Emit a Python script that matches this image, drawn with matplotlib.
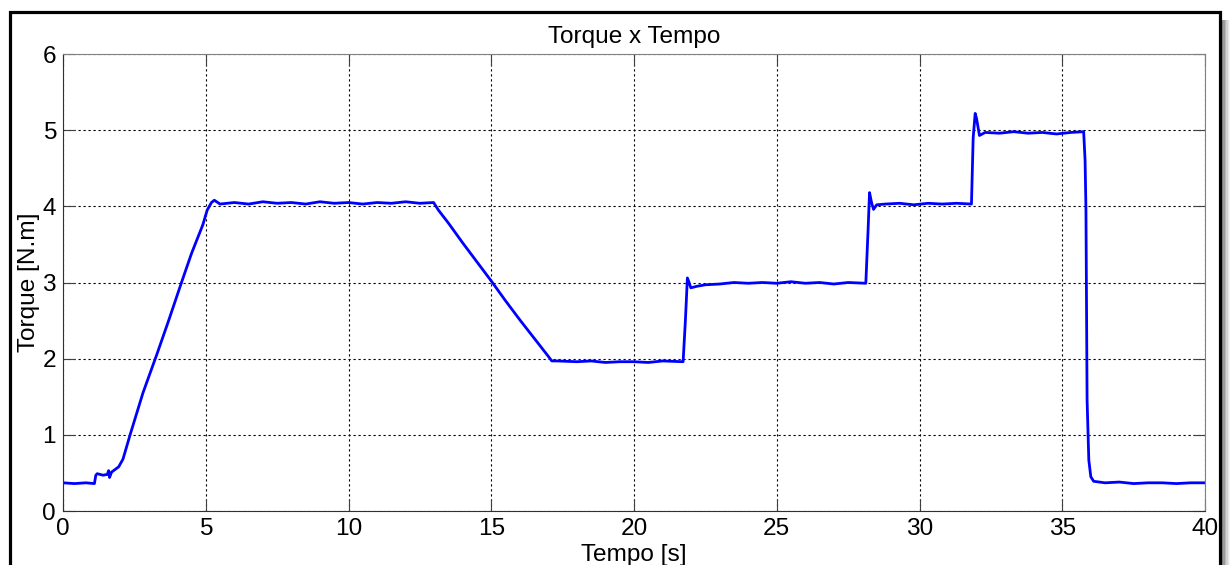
import numpy as np
import matplotlib
matplotlib.use("Agg")
import matplotlib.pyplot as plt
import matplotlib.patches as patches

plt.rcParams['font.family'] = ['Liberation Sans', 'DejaVu Sans']

# torque readings (time [s], torque [N.m])
tempo = [0.0, 0.4, 0.8, 1.1, 1.15, 1.2, 1.4, 1.55, 1.6, 1.63, 1.7, 1.95, 2.1,
         2.35, 2.8, 3.3, 3.7, 4.15, 4.5, 4.9, 5.05, 5.2, 5.3, 5.5,
         6.0, 6.5, 7.0, 7.5, 8.0, 8.5, 9.0, 9.5, 10.0, 10.5, 11.0, 11.5, 12.0, 12.5, 12.98,
         13.15, 13.5, 14.0, 14.5, 15.02, 15.5, 16.0, 16.5, 17.0, 17.12, 17.3,
         18.0, 18.5, 19.0, 19.5, 20.0, 20.5, 21.0, 21.72,
         21.8, 21.87, 21.93, 21.99, 22.2, 22.5, 23.0, 23.5, 24.0, 24.5, 25.0, 25.5,
         26.0, 26.5, 27.0, 27.5, 28.12,
         28.2, 28.25, 28.32, 28.39, 28.5, 28.8, 29.3, 29.8, 30.3, 30.8, 31.3, 31.82,
         31.88, 31.95, 32.0, 32.1, 32.3, 32.8, 33.3, 33.8, 34.3, 34.8, 35.3, 35.75,
         35.8, 35.83, 35.87, 35.93, 36.0, 36.1, 36.5, 37.0, 37.5, 38.0, 38.5, 39.0, 39.5, 40.0]
torque = [0.37, 0.36, 0.37, 0.36, 0.47, 0.49, 0.47, 0.48, 0.53, 0.44, 0.51, 0.58, 0.68,
          1.0, 1.55, 2.07, 2.5, 3.0, 3.38, 3.76, 3.95, 4.05, 4.08, 4.03,
          4.05, 4.03, 4.06, 4.04, 4.05, 4.03, 4.06, 4.04, 4.05, 4.03, 4.05, 4.04, 4.06, 4.04, 4.05,
          3.95, 3.78, 3.52, 3.27, 3.01, 2.76, 2.51, 2.27, 2.03, 1.97, 1.97,
          1.96, 1.97, 1.95, 1.96, 1.96, 1.95, 1.97, 1.96,
          2.5, 3.06, 3.0, 2.93, 2.95, 2.97, 2.98, 3.0, 2.99, 3.0, 2.99, 3.01,
          2.99, 3.0, 2.98, 3.0, 2.99,
          3.7, 4.18, 4.05, 3.96, 4.02, 4.03, 4.04, 4.02, 4.04, 4.03, 4.04, 4.03,
          4.9, 5.22, 5.15, 4.93, 4.97, 4.96, 4.98, 4.96, 4.97, 4.95, 4.97, 4.98,
          4.6, 3.96, 1.46, 0.67, 0.45, 0.39, 0.37, 0.38, 0.36, 0.37, 0.37, 0.36, 0.37, 0.37]

fig = plt.figure(figsize=(12.3, 5.65), dpi=100)
ax = fig.add_axes([63/1230, 1-511/565, 1142/1230, 457/565])

ax.plot(tempo, torque, color=(0, 0, 1), lw=2.0)

ax.set_xlim(0, 40)
ax.set_ylim(0, 6)
ax.set_xticks(range(0, 41, 5))
ax.set_yticks(range(0, 7))
ax.grid(True, color='black', linestyle=(0, (2, 2.5)), lw=0.8)
ax.tick_params(direction='in', length=8.5, labelsize=17.6, pad=5,
               top=True, right=True, color='#404040')
for s in ['top', 'right']:
    ax.spines[s].set_color('#808080')
for s in ['left', 'bottom']:
    ax.spines[s].set_color('#303030')

ax.set_title('Torque x Tempo', fontsize=17.6, pad=8)
ax.set_xlabel('Tempo [s]', fontsize=17.6, labelpad=3)
ax.set_ylabel('Torque [N.m]', fontsize=17.6, labelpad=2)

# frame around the figure with a little shadow on the right
fig.add_artist(patches.Rectangle((9.5/1230, -0.05), 1210/1230, 1.05-12/565,
                                 transform=fig.transFigure, fill=False,
                                 lw=2.3, edgecolor='black'))
shade = ['#7a7a7a', '#9a9a9a', '#b8b8b8', '#d2d2d2', '#e6e6e6', '#f4f4f4']
for i, c in enumerate(shade):
    fig.add_artist(patches.Rectangle(((1222+i*1.4)/1230, 0), 1.4/1230, 1-20/565,
                                     transform=fig.transFigure, color=c, lw=0))

fig.savefig('out.png', dpi=100)
